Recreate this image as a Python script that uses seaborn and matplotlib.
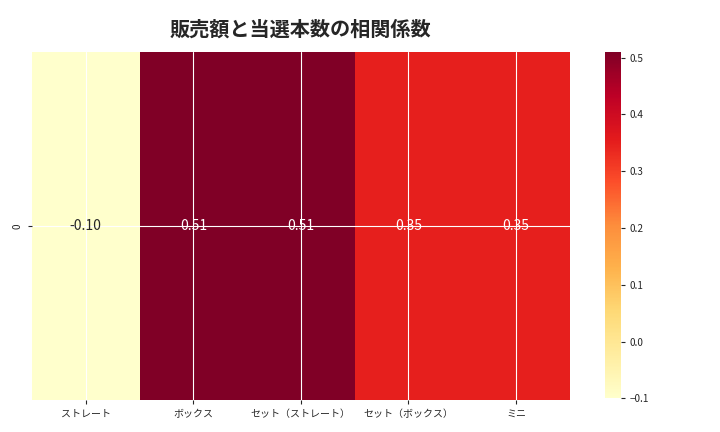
import numpy as np
import pandas as pd
import seaborn as sns
import matplotlib
matplotlib.use('Agg')
import matplotlib.pyplot as plt

columns = ['ストレート', 'ボックス', 'セット（ストレート）', 'セット（ボックス）', 'ミニ']
corr_values = [-0.10, 0.51, 0.51, 0.35, 0.35]
title = '販売額と当選本数の相関係数'

sns.set_style('ticks')
plt.rcParams['font.family'] = ['Noto Sans CJK JP', 'DejaVu Sans']

df = pd.DataFrame([corr_values], columns=columns)

fig = plt.figure(figsize=(7.2, 4.32), dpi=100)
ax = fig.add_axes([0.0444, 0.074, 0.747, 0.806])
cax = fig.add_axes([0.840, 0.078, 0.022, 0.802])

sns.heatmap(df, annot=True, fmt='.2f', cmap='YlOrRd', ax=ax, cbar_ax=cax,
            annot_kws={'fontsize': 10})
ax.set_axisbelow(False)
ax.grid(True, color='white', linewidth=0.8)
ax.tick_params(axis='both', labelsize=7.2, length=3)
ax.tick_params(axis='x', labelrotation=0)
cax.tick_params(labelsize=7.2, length=3)
cax.yaxis.set_ticks([-0.1, 0.0, 0.1, 0.2, 0.3, 0.4, 0.5])
cax.grid(False)
ax.set_title(title, fontsize=14.5, fontweight='bold', pad=12)

fig.savefig('out.png', dpi=100)
